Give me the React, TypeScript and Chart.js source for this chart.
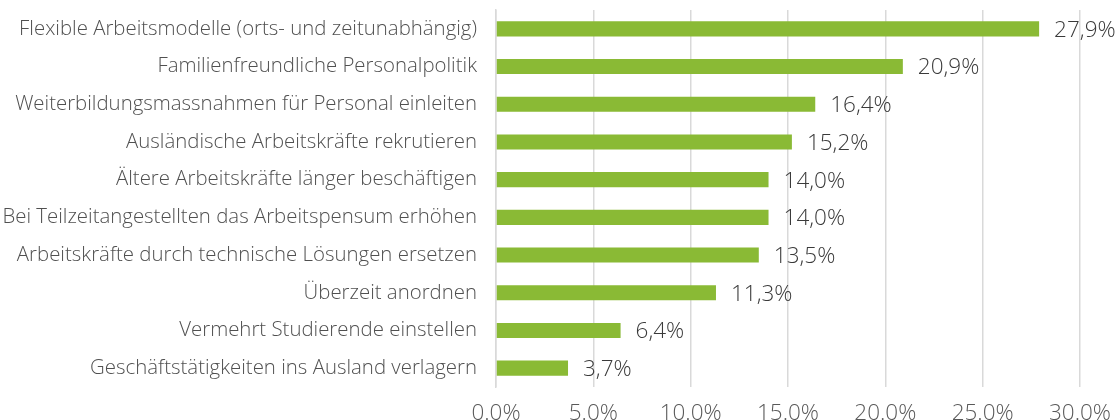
import React, { useEffect, useRef } from "react";
import { Chart, registerables } from "chart.js";

Chart.register(...registerables);

const categories = [
  "Flexible Arbeitsmodelle (orts- und zeitunabhängig)",
  "Familienfreundliche Personalpolitik",
  "Weiterbildungsmassnahmen für Personal einleiten",
  "Ausländische Arbeitskräfte rekrutieren",
  "Ältere Arbeitskräfte länger beschäftigen",
  "Bei Teilzeitangestellten das Arbeitspensum erhöhen",
  "Arbeitskräfte durch technische Lösungen ersetzen",
  "Überzeit anordnen",
  "Vermehrt Studierende einstellen",
  "Geschäftstätigkeiten ins Ausland verlagern",
];
const values = [27.9, 20.9, 16.4, 15.2, 14.0, 14.0, 13.5, 11.3, 6.4, 3.7];
const xTicks = [0, 5, 10, 15, 20, 25, 30];

const FONT = "'Open Sans', sans-serif";
const TEXT = "#595959";

const valueLabels = {
  id: "valueLabels",
  afterDatasetsDraw(chart: any) {
    const ctx = chart.ctx;
    const meta = chart.getDatasetMeta(0);
    ctx.save();
    ctx.font = `300 22.5px ${FONT}`;
    ctx.fillStyle = "#3a3a3a";
    ctx.textAlign = "left";
    ctx.textBaseline = "middle";
    meta.data.forEach((bar: any, i: number) => {
      const txt = values[i].toFixed(1).replace(".", ",") + "%";
      ctx.fillText(txt, bar.x + 15, bar.y + 1.5);
    });
    ctx.restore();
  },
};

export default function App() {
  const ref = useRef<HTMLCanvasElement>(null);
  useEffect(() => {
    if (!ref.current) return;
    const chart = new Chart(ref.current, {
      type: "bar",
      data: {
        labels: categories,
        datasets: [
          {
            data: values,
            backgroundColor: "#8aba35",
            barPercentage: 0.8,
            categoryPercentage: 0.5,
          },
        ],
      },
      options: {
        indexAxis: "y",
        animation: false,
        responsive: false,
        maintainAspectRatio: false,
        layout: { padding: { top: 10, right: 40, left: 0, bottom: 0 } },
        plugins: { legend: { display: false }, tooltip: { enabled: false } },
        scales: {
          x: {
            min: 0,
            max: 30,
            afterBuildTicks(scale: any) {
              scale.ticks = xTicks.map((v) => ({ value: v }));
            },
            afterFit(scale: any) {
              scale.height = 33;
              scale.paddingLeft = 0;
              scale.paddingRight = 0;
            },
            grid: { color: "#d9d9d9", lineWidth: 1.5, drawTicks: false },
            border: { display: false },
            ticks: {
              padding: 13,
              color: TEXT,
              font: { family: FONT, size: 22.5, weight: "300" },
              callback: (v: any) => Number(v).toFixed(1) + "%",
            },
          },
          y: {
            afterFit(scale: any) {
              scale.width = 496;
              scale.paddingTop = 0;
              scale.paddingBottom = 0;
            },
            grid: { display: false, drawTicks: false },
            border: { display: true, color: "#d9d9d9", width: 1.5 },
            ticks: {
              padding: 19,
              color: "#505050",
              font: { family: FONT, size: 20.4, weight: "300" },
            },
          },
        },
      },
      plugins: [valueLabels],
    });
    return () => chart.destroy();
  }, []);
  return (
    <div style={{ position: "fixed", left: 0, top: 0, width: 1120, height: 420, background: "#fff" }}>
      <canvas ref={ref} width={1120} height={420} style={{ width: 1120, height: 420 }} />
    </div>
  );
}
